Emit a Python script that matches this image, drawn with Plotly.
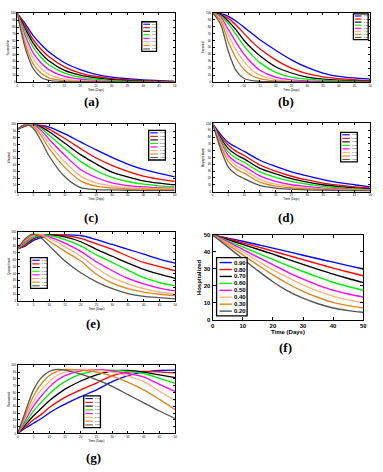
import plotly.graph_objects as go

W, H = 383, 472

# series names and colours (same for all seven panels)
labels = ["0.90", "0.80", "0.70", "0.60", "0.50", "0.40", "0.30", "0.20"]
colors = ["#0000ff", "#ff0000", "#000000", "#00ee00", "#ff00ff", "#f8b47a", "#dc8620", "#555555"]

# (a)
x_a = [0, 2.5, 5, 7.5, 10, 15, 20, 25, 30, 40, 50]
y_a = [
    [100, 85, 68, 55, 44, 28, 18, 11, 7, 3, 1],
    [100, 82, 62, 48, 37, 22, 13, 8, 5, 2, 0.8],
    [100, 78, 57, 42, 31, 17, 10, 6, 3.5, 1.2, 0.5],
    [100, 74, 51, 36, 25, 13, 7, 4, 2, 0.7, 0.3],
    [100, 68, 43, 28, 18, 8, 4, 2, 1, 0.4, 0.2],
    [100, 62, 35, 20, 11, 4, 2, 1, 0.5, 0.2, 0.1],
    [100, 56, 27, 13, 6, 2, 1, 0.5, 0.3, 0.1, 0],
    [100, 50, 20, 7, 2.5, 0.6, 0.2, 0.1, 0, 0, 0],
]

# (b)
x_b = [0, 2.5, 5, 7.5, 10, 12.5, 15, 20, 25, 30, 35, 40, 50]
y_b = [
    [100, 99, 95, 88, 79, 70, 61, 46, 32, 21, 13, 8, 4],
    [100, 98, 92, 82, 70, 58, 48, 32, 20, 12, 7.5, 5, 2],
    [100, 97, 88, 75, 60, 48, 38, 22, 13, 7, 4, 2.5, 1],
    [100, 96, 84, 68, 52, 39, 28, 14, 7, 4, 2.5, 1.5, 0.5],
    [100, 94, 76, 57, 40, 27, 17, 7, 3, 1.5, 1, 0.5, 0.2],
    [100, 92, 68, 46, 29, 17, 10, 3.5, 1.2, 0.5, 0.3, 0.2, 0.1],
    [100, 89, 58, 34, 18, 9, 5, 1.5, 0.5, 0.2, 0.1, 0, 0],
    [100, 84, 44, 16, 5, 2, 1, 0.3, 0.1, 0, 0, 0, 0],
]

# (c)
x_c = [0, 2.5, 5, 7.5, 10, 15, 20, 25, 30, 35, 40, 45, 50]
y_c = [
    [93, 98, 100, 99, 96, 86, 74, 62, 51, 41, 33, 27, 22],
    [93, 98, 100, 98, 93, 79, 64, 50, 39, 30, 23, 18.5, 15],
    [93, 99, 100, 96, 89, 72, 55, 41, 29, 22, 16, 12.5, 10],
    [93, 99, 99.5, 94, 84, 64, 45, 31, 21, 15, 11, 8.5, 7],
    [93, 99.5, 99, 91, 78, 54, 33, 21, 13, 9, 7, 5.5, 5],
    [93, 100, 98, 87, 71, 44, 23, 13, 8.5, 6, 5, 4.2, 4],
    [93, 100, 97, 83, 64, 36, 16, 8, 5.4, 4, 3.5, 3.2, 3],
    [93, 100, 94, 75, 53, 22, 6, 3, 2.5, 2, 1.5, 1.5, 1.5],
]

# (d)
x_d = [0, 2.5, 5, 7.5, 10, 15, 20, 25, 30, 35, 40, 45, 50]
y_d = [
    [100, 84, 72, 65, 59, 46, 37, 29, 23, 17.5, 13, 10, 7],
    [100, 81, 68, 59, 53, 39, 30, 22.5, 17, 12.5, 9.4, 7, 5],
    [100, 79, 63, 54, 48, 34, 26, 19, 14, 10, 7.4, 5.5, 4],
    [100, 77, 58, 49, 43, 29, 21, 15, 11, 7.5, 5.4, 4, 3],
    [100, 74, 53, 43, 37, 23, 15, 10, 7.4, 5, 4, 3, 2.5],
    [100, 71, 49, 38, 32, 18, 11, 7.5, 5.4, 4, 3, 2.4, 2],
    [100, 68, 44, 33, 27, 14, 8, 5.5, 4, 3, 2.5, 2, 1.5],
    [100, 63, 36, 25, 19, 9, 5, 3.5, 2.5, 2, 1.5, 1.2, 1],
]

# (e)
x_e = [0, 2.5, 5, 7.5, 10, 15, 20, 25, 30, 35, 40, 45, 50]
y_e = [
    [76, 80, 88, 92, 95, 96, 95, 89, 82, 75, 68, 61, 55],
    [76, 81, 90, 94, 96, 95, 91, 83, 75, 65, 56, 50, 44],
    [76, 83, 91, 95, 96, 93, 86, 75, 65, 55, 46, 39, 33],
    [76, 84, 92, 95, 95, 89, 80, 67, 56, 45, 34, 27, 22],
    [76, 86, 94, 96, 93, 84, 72, 57, 44, 33, 25, 19, 15],
    [76, 88, 95, 96, 91, 79, 65, 48, 34, 25, 18, 13, 10.5],
    [76, 89, 96, 95, 87, 72, 58, 39, 26, 18, 13, 10, 8],
    [76, 91, 97, 91, 80, 58, 41, 28, 18, 11, 7, 5, 3.3],
]

# (f) Hospitalized
x_f = [0, 5, 10, 15, 20, 25, 30, 35, 40, 45, 50]
y_f = [
    [50, 48.2, 46.3, 44.3, 42.3, 40.2, 38.1, 36, 34, 32, 30],
    [50, 47.8, 45.4, 43, 40.5, 38, 35.5, 33, 30.5, 28.2, 26],
    [50, 47.3, 44.5, 41.6, 38.7, 35.7, 32.7, 29.8, 27, 24.4, 22],
    [50, 46.6, 43, 39.3, 35.6, 32, 28.5, 25.2, 22.2, 19.7, 17.5],
    [50, 46, 41.5, 37, 32.5, 28, 24, 20.5, 17.5, 15.3, 13.5],
    [50, 45.2, 40, 34.7, 29.5, 25, 20.7, 17, 14, 11.8, 10],
    [50, 44.3, 38.3, 32.3, 26.5, 21.3, 16.8, 13.2, 10.3, 8.4, 7],
    [50, 43, 36, 29, 22.5, 17, 12.8, 9.5, 7, 5.5, 4.5],
]

# (g)
x_g = [0, 2.5, 5, 7.5, 10, 12.5, 15, 20, 25, 30, 35, 40, 45, 50]
y_g = [
    [0, 8, 15, 22, 30, 37, 43, 54, 64, 76, 85, 90, 92.5, 93],
    [0, 10, 20, 28, 38, 46, 53, 64, 74, 85, 90, 91, 90.5, 89],
    [0, 13, 26, 37, 48, 57, 65, 77, 86, 92, 92.5, 90, 86, 82],
    [0, 16, 33, 46, 58, 68, 76, 87, 92, 93, 91, 88, 81, 73.5],
    [0, 20, 40, 55, 68, 78, 85, 92, 93.5, 92, 88, 83, 72, 61.5],
    [0, 24, 47, 64, 76, 85, 90, 94, 93, 90, 84, 76, 62, 48],
    [0, 28, 55, 73, 85, 91, 94, 93, 90, 84, 75, 64, 50, 35],
    [0, 33, 64, 82, 91, 94, 93, 87, 79, 69, 57, 45, 33, 22],
]

# panel layout: plot box / legend box in pixels, label position
panels = [
    dict(tag="(a)", x=x_a, y=y_a, ytitle="Susceptible", box=(15.5, 10.5, 175.5, 80), leg=(142, 19, 157, 49), lab=(91, 100), yr=(0, 100)),
    dict(tag="(b)", x=x_b, y=y_b, ytitle="Exposed", box=(214, 10, 374, 80), leg=(357, 11, 372, 37), lab=(289, 100), yr=(0, 100)),
    dict(tag="(c)", x=x_c, y=y_c, ytitle="Infected", box=(16, 123, 175.5, 191), leg=(149, 129, 166, 159), lab=(90, 217), yr=(0, 100)),
    dict(tag="(d)", x=x_d, y=y_d, ytitle="Asymptomatic", box=(214, 122, 374, 191), leg=(344, 131, 361, 161), lab=(289, 217), yr=(0, 100)),
    dict(tag="(e)", x=x_e, y=y_e, ytitle="Quarantined", box=(16, 232, 176, 302), leg=(29, 258, 46, 289), lab=(92, 325), yr=(0, 100)),
    dict(tag="(f)", x=x_f, y=y_f, ytitle="Hospitalized", box=(214, 235, 367, 321), leg=(218, 258, 249, 317), lab=(288, 349), yr=(0, 50), big=True),
    dict(tag="(g)", x=x_g, y=y_g, ytitle="Recovered", box=(16, 367, 176, 436), leg=(83, 398, 100, 430), lab=(93, 460), yr=(0, 100)),
]


def px(x):
    return x / W


def py(y):
    return 1 - y / H


fig = go.Figure()
shapes, annos = [], []

for n, p in enumerate(panels, start=1):
    big = p.get("big", False)
    x0, y0, x1, y1 = p["box"]
    for lab, col, ys in zip(labels, colors, p["y"]):
        fig.add_scatter(
            x=p["x"], y=ys, mode="lines", name=lab, showlegend=False,
            xaxis=f"x{n}", yaxis=f"y{n}",
            line=dict(color=col, width=1.4 if big else 1.3, shape="spline", smoothing=0.8),
        )

    tfont = dict(family="Liberation Sans", size=6 if big else 3, color="black", weight="bold" if big else "normal")
    common = dict(showline=True, linecolor="black", linewidth=1, mirror="ticks",
                  ticks="inside", ticklen=3 if big else 2, tickwidth=0.8 if big else 0.5,
                  tickcolor="black", showgrid=False, zeroline=False, tickfont=tfont)
    fig.layout[f"xaxis{n}"] = dict(
        domain=[px(x0), px(x1)], anchor=f"y{n}", range=[0, 50], dtick=10 if big else 5,
        title=dict(text="Time (Days)", font=tfont, standoff=1), **common)
    fig.layout[f"yaxis{n}"] = dict(
        domain=[py(y1), py(y0)], anchor=f"x{n}", range=list(p["yr"]), dtick=10,
        title=dict(text=p["ytitle"], font=tfont, standoff=1), **common)

    # hand-drawn legend box
    lx0, ly0, lx1, ly1 = p["leg"]
    shapes.append(dict(type="rect", xref="paper", yref="paper",
                       x0=px(lx0), x1=px(lx1), y0=py(ly1), y1=py(ly0),
                       line=dict(color="black", width=1.3), fillcolor="white", layer="above"))
    rowh = (ly1 - ly0) / (len(labels) + 0.4)
    lw = lx1 - lx0
    for i, (lab, col) in enumerate(zip(labels, colors)):
        yy = ly0 + rowh * (i + 0.7)
        shapes.append(dict(type="line", xref="paper", yref="paper",
                           x0=px(lx0 + lw * 0.1), x1=px(lx0 + lw * (0.5 if big else 0.55)), y0=py(yy), y1=py(yy),
                           line=dict(color=col, width=1.4 if big else 1.1), layer="above"))
        annos.append(dict(text=f"<b>{lab}</b>" if big else lab, xref="paper", yref="paper",
                          x=px(lx0 + lw * (0.52 if big else 0.58)), y=py(yy), xanchor="left", yanchor="middle",
                          showarrow=False,
                          font=dict(family="Liberation Sans", size=6 if big else 2.5, color="black")))

    annos.append(dict(text=f"<b>{p['tag']}</b>", xref="paper", yref="paper",
                      x=px(p["lab"][0]), y=py(p["lab"][1]), xanchor="center", yanchor="middle",
                      showarrow=False, font=dict(family="Liberation Serif", size=13, color="black")))

fig.update_layout(
    width=W, height=H,
    margin=dict(l=0, r=0, t=0, b=0),
    paper_bgcolor="white", plot_bgcolor="white",
    showlegend=False,
    shapes=shapes, annotations=annos,
)

# drop the page's default 8px body margin so the figure sits at the window corner
fig.write_html("out.html", config={"displayModeBar": False},
               post_script="document.body.style.margin='0px';")
